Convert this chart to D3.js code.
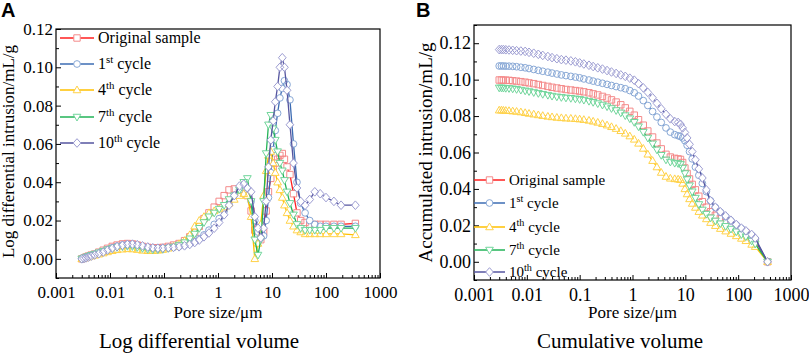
<!DOCTYPE html>
<html>
<head>
<meta charset="utf-8">
<script src="https://cdn.jsdelivr.net/npm/d3@7"></script>
<style>
  body { margin: 0; background: #fff; }
  svg text { font-family: "Liberation Serif", "Times New Roman", serif; fill: #000; }
</style>
</head>
<body>
<div id="chart"></div>
<script>

// ------------------- //
// DATA
// ------------------- //

// legend labels (number + superscript)
var legendMain = ["Original sample", "1", "4", "7", "10"]
var legendSup  = ["", "st", "th", "th", "th"]

// panel A: log differential intrusion (mL/g) vs pore size (um)
var sizeA = [0.0030,0.0033,0.0036,0.0040,0.0045,0.0052,0.0062,0.0075,0.009,0.011,
  0.0135,0.017,0.021,0.026,0.032,0.040,0.050,0.062,0.077,0.095,
  0.12,0.15,0.19,0.24,0.30,0.37,0.45,0.55,0.68,0.85,
  1.05,1.3,1.6,2.0,2.5,3.0,3.5,4.1,4.8,5.5,
  6.2,7.0,7.8,8.6,9.5,10.5,11.5,12.7,14,15.5,
  17,19,21.5,25,29,34,41,50,62,78,
  100,140,190,350]

var diffOriginal = [0.000,0.0005,0.001,0.0015,0.002,0.0025,0.0035,0.0045,0.0055,0.0065,
  0.0072,0.0078,0.008,0.0078,0.0072,0.0065,0.006,0.0058,0.0058,0.006,
  0.0065,0.0072,0.008,0.0095,0.0115,0.014,0.017,0.021,0.024,0.027,
  0.030,0.033,0.036,0.0365,0.035,0.034,0.033,0.025,0.015,0.012,
  0.010,0.014,0.025,0.035,0.042,0.047,0.050,0.052,0.054,0.055,
  0.052,0.048,0.044,0.034,0.024,0.020,0.019,0.018,0.018,0.018,
  0.018,0.018,0.018,0.0185]

var diffCycle1 = [0,0.0003,0.0008,0.0012,0.0018,0.0024,0.003,0.0038,0.0048,0.0058,
  0.0066,0.0072,0.0075,0.0074,0.007,0.0064,0.0058,0.0055,0.0054,0.0055,
  0.0058,0.006,0.0065,0.0072,0.008,0.009,0.0105,0.0125,0.015,0.018,
  0.021,0.025,0.029,0.033,0.036,0.037,0.036,0.030,0.020,0.014,
  0.011,0.012,0.020,0.032,0.045,0.057,0.067,0.076,0.084,0.089,
  0.093,0.091,0.083,0.060,0.040,0.029,0.024,0.020,0.018,0.017,
  0.017,0.017,0.017,0.017]

var diffCycle4 = [0,0.0003,0.0006,0.001,0.0014,0.0018,0.0024,0.003,0.0036,0.0042,
  0.0047,0.005,0.0052,0.0051,0.0048,0.0044,0.0042,0.0042,0.0044,0.0048,
  0.0055,0.0065,0.0078,0.0095,0.0125,0.017,0.020,0.022,0.024,0.025,
  0.026,0.027,0.029,0.031,0.033,0.034,0.033,0.022,0.000,0.008,
  0.018,0.033,0.046,0.054,0.056,0.050,0.045,0.040,0.036,0.032,
  0.028,0.024,0.020,0.017,0.015,0.014,0.013,0.013,0.013,0.013,
  0.013,0.013,0.013,0.0125]

var diffCycle7 = [0,0.0004,0.0009,0.0014,0.0019,0.0025,0.0032,0.004,0.0048,0.0055,
  0.006,0.0064,0.0066,0.0065,0.006,0.0055,0.005,0.0048,0.0048,0.005,
  0.0055,0.0062,0.0072,0.0085,0.0105,0.013,0.016,0.019,0.022,0.024,
  0.026,0.028,0.031,0.033,0.036,0.040,0.042,0.030,0.010,0.002,
  0.010,0.030,0.055,0.070,0.075,0.068,0.062,0.056,0.050,0.046,
  0.041,0.035,0.029,0.023,0.018,0.016,0.015,0.015,0.015,0.015,
  0.016,0.016,0.016,0.016]

var diffCycle10 = [0,0.0002,0.0005,0.0009,0.0014,0.002,0.0027,0.0035,0.0045,0.0055,
  0.0064,0.0071,0.0076,0.0077,0.0074,0.0068,0.0062,0.0058,0.0056,0.0056,
  0.0058,0.006,0.0063,0.0068,0.0075,0.0085,0.0098,0.0115,0.0135,0.016,
  0.019,0.023,0.028,0.033,0.038,0.039,0.037,0.035,0.022,0.016,
  0.011,0.016,0.030,0.048,0.062,0.072,0.082,0.090,0.100,0.105,
  0.100,0.088,0.070,0.050,0.037,0.030,0.028,0.031,0.035,0.034,
  0.032,0.030,0.028,0.028]

// panel B: cumulative intrusion (mL/g) vs pore size (um)
var sizeB = [0.0030,0.0033,0.0036,0.0040,0.0046,0.0054,0.0064,0.0077,0.0093,0.011,
  0.0135,0.0165,0.020,0.025,0.030,0.037,0.045,0.055,0.068,0.083,
  0.10,0.12,0.15,0.18,0.22,0.27,0.33,0.40,0.49,0.60,
  0.73,0.89,1.08,1.3,1.6,1.95,2.4,2.9,3.5,4.3,
  5.2,6.3,7.3,8.1,8.9,9.8,10.8,12,13.5,15.5,
  18,21,25,30,37,46,58,73,92,115,
  140,180,210,360]

var cumOriginal = [0.0998,0.0998,0.0997,0.0997,0.0996,0.0994,0.0992,0.0989,0.0986,0.0982,
  0.0978,0.0973,0.0968,0.0963,0.0958,0.0954,0.0950,0.0946,0.0943,0.0940,
  0.0937,0.0933,0.0928,0.0922,0.0916,0.0908,0.0899,0.0889,0.0877,0.0862,
  0.0845,0.0826,0.0805,0.0780,0.0750,0.0718,0.0685,0.0652,0.0620,0.0590,
  0.0575,0.0568,0.0565,0.0562,0.0545,0.0515,0.0485,0.0455,0.0425,0.0395,
  0.0360,0.0330,0.0300,0.0275,0.0255,0.0238,0.0222,0.0205,0.0188,0.0172,
  0.0160,0.0135,0.0115,0]

var cumCycle1 = [0.1075,0.1075,0.1075,0.1074,0.1074,0.1073,0.1071,0.1068,0.1065,0.1061,
  0.1056,0.1051,0.1046,0.1041,0.1036,0.1031,0.1026,0.1022,0.1018,0.1014,
  0.1010,0.1004,0.0998,0.0992,0.0986,0.0980,0.0974,0.0968,0.0962,0.0956,
  0.0950,0.0940,0.0928,0.0910,0.0885,0.0858,0.0825,0.0795,0.0765,0.0735,
  0.0712,0.0698,0.0692,0.0688,0.0680,0.0665,0.0640,0.0605,0.0565,0.0520,
  0.0475,0.0430,0.0385,0.0335,0.0298,0.0272,0.0248,0.0225,0.0202,0.0182,
  0.0165,0.0145,0.0122,0]

var cumCycle4 = [0.0832,0.0832,0.0831,0.0830,0.0829,0.0827,0.0825,0.0822,0.0818,0.0814,
  0.0810,0.0806,0.0802,0.0798,0.0795,0.0792,0.0790,0.0788,0.0787,0.0785,
  0.0783,0.0780,0.0776,0.0771,0.0765,0.0758,0.0750,0.0741,0.0731,0.0719,
  0.0705,0.0690,0.0672,0.0650,0.0622,0.0590,0.0555,0.0520,0.0490,0.0468,
  0.0458,0.0455,0.0453,0.0450,0.0430,0.0400,0.0372,0.0345,0.0320,0.0298,
  0.0275,0.0255,0.0235,0.0215,0.0198,0.0182,0.0168,0.0155,0.0142,0.0128,
  0.0115,0.0095,0.0083,0]

var cumCycle7 = [0.0955,0.0955,0.0954,0.0953,0.0952,0.0950,0.0947,0.0943,0.0939,0.0935,
  0.0930,0.0925,0.0920,0.0915,0.0910,0.0906,0.0903,0.0900,0.0898,0.0895,
  0.0892,0.0888,0.0882,0.0876,0.0869,0.0861,0.0852,0.0842,0.0831,0.0818,
  0.0803,0.0786,0.0766,0.0742,0.0712,0.0680,0.0648,0.0615,0.0585,0.0560,
  0.0548,0.0542,0.0540,0.0535,0.0515,0.0485,0.0452,0.0418,0.0385,0.0350,
  0.0315,0.0285,0.0262,0.0242,0.0225,0.0210,0.0195,0.0180,0.0165,0.0150,
  0.0138,0.0115,0.0098,0]

var cumCycle10 = [0.1165,0.1165,0.1165,0.1164,0.1163,0.1161,0.1159,0.1157,0.1155,0.1150,
  0.1145,0.1139,0.1133,0.1127,0.1121,0.1115,0.1110,0.1107,0.1103,0.1098,
  0.1092,0.1086,0.1079,0.1072,0.1065,0.1058,0.1050,0.1042,0.1034,0.1026,
  0.1018,0.1008,0.0997,0.0978,0.0955,0.0930,0.0900,0.0870,0.0840,0.0810,
  0.0785,0.0770,0.0765,0.0755,0.0735,0.0710,0.0680,0.0645,0.0605,0.0560,
  0.0510,0.0460,0.0395,0.0335,0.0300,0.0275,0.0252,0.0228,0.0205,0.0185,
  0.0170,0.0150,0.0130,0]

var xTickLabels = ["0.001", "0.01", "0.1", "1", "10", "100", "1000"]

// ------------------- //
// STYLE
// ------------------- //

var serif = "'Liberation Serif', 'Times New Roman', serif"
var lineColors   = ["#ff1f1f", "#3d6cb3", "#ffc000", "#22b357", "#55559f"]
var markerColors = ["#f48a8a", "#88a8d6", "#ffd24a", "#72d69c", "#9d9dd2"]

// custom marker shapes (hollow, like the origin plot)
function shapePath(k, s) {
  var p = d3.path()
  if (k == 0) { p.rect(-s, -s, 2*s, 2*s) }
  else if (k == 1) { p.arc(0, 0, s*1.05, 0, 2*Math.PI) }
  else if (k == 2) { p.moveTo(0, -s*1.25); p.lineTo(s*1.2, s*0.85); p.lineTo(-s*1.2, s*0.85); p.closePath() }
  else if (k == 3) { p.moveTo(0, s*1.25); p.lineTo(s*1.2, -s*0.85); p.lineTo(-s*1.2, -s*0.85); p.closePath() }
  else { p.moveTo(0, -s*1.35); p.lineTo(s*1.2, 0); p.lineTo(0, s*1.35); p.lineTo(-s*1.2, 0); p.closePath() }
  return p.toString()
}

var W = 809, H = 358

var svg = d3.select("#chart")
  .append("svg")
    .attr("width", W)
    .attr("height", H)
    .attr("font-family", serif)

// ------------------- //
// PANEL FUNCTION
// ------------------- //

function drawPanel(cfg) {
  var g = svg.append("g")

  var x = d3.scaleLog().domain([0.001, 1000]).range([cfg.left, cfg.right])
  var y = d3.scaleLinear().domain(cfg.yDomain).range([cfg.bottom, cfg.top])

  // minor ticks
  var minorX = []
  for (var e = -3; e < 3; e++) {
    for (var m = 2; m <= 9; m++) minorX.push(m * Math.pow(10, e))
  }
  g.append("g")
    .attr("transform", "translate(0," + cfg.bottom + ")")
    .call(d3.axisBottom(x).tickValues(minorX).tickSize(-3).tickFormat(""))
    .call(function(a){ a.select(".domain").remove() })

  g.append("g")
    .attr("transform", "translate(0," + cfg.bottom + ")")
    .call(d3.axisBottom(x).tickValues(xTickLabels.map(Number)).tickSize(-5).tickPadding(8)
      .tickFormat(function(d, i){ return xTickLabels[i] }))
    .call(function(a){ a.select(".domain").remove() })
    .attr("font-family", serif)
    .attr("font-size", cfg.tickFont)

  g.append("g")
    .attr("transform", "translate(" + cfg.left + ",0)")
    .call(d3.axisLeft(y).tickValues(cfg.yMinor).tickSize(-3).tickFormat(""))
    .call(function(a){ a.select(".domain").remove() })

  g.append("g")
    .attr("transform", "translate(" + cfg.left + ",0)")
    .call(d3.axisLeft(y).tickValues(cfg.yTicks).tickSize(-5).tickPadding(3).tickFormat(d3.format(".2f")))
    .call(function(a){ a.select(".domain").remove() })
    .attr("font-family", serif)
    .attr("font-size", cfg.tickFont)

  g.selectAll(".tick line").attr("stroke", "#000").attr("stroke-width", 1)

  // frame
  g.append("rect")
    .attr("x", cfg.left)
    .attr("y", cfg.top)
    .attr("width", cfg.right - cfg.left)
    .attr("height", cfg.bottom - cfg.top)
    .attr("fill", "none")
    .attr("stroke", "#000")
    .attr("stroke-width", 1.2)

  // lines + markers (line hidden inside each marker, outlines on top)
  var line = d3.line()
    .x(function(d){ return x(d[0]) })
    .y(function(d){ return y(d[1]) })

  cfg.series.forEach(function(vals, k) {
    var pts = cfg.sizes.map(function(s, i){ return [s, vals[i]] })
    g.append("path")
      .datum(pts)
      .attr("d", line)
      .attr("fill", "none")
      .attr("stroke", lineColors[k])
      .attr("stroke-width", 1.3)
    g.selectAll(".fill" + k)
      .data(pts)
      .enter()
      .append("path")
        .attr("class", "fill" + k)
        .attr("d", shapePath(k, 2.8))
        .attr("transform", function(d){ return "translate(" + x(d[0]) + "," + y(d[1]) + ")" })
        .attr("fill", "#fff")
    g.selectAll(".mk" + k)
      .data(pts)
      .enter()
      .append("path")
        .attr("class", "mk" + k)
        .attr("d", shapePath(k, 3.2))
        .attr("transform", function(d){ return "translate(" + x(d[0]) + "," + y(d[1]) + ")" })
        .attr("fill", "none")
        .attr("stroke", markerColors[k])
        .attr("stroke-width", 1)
  })

  // legend
  legendMain.forEach(function(lbl, k) {
    var ly = cfg.legY[k]
    g.append("line")
      .attr("x1", cfg.legX0).attr("x2", cfg.legX1)
      .attr("y1", ly).attr("y2", ly)
      .attr("stroke", lineColors[k])
      .attr("stroke-width", 1.5)
    g.append("path")
      .attr("d", shapePath(k, 3.2))
      .attr("transform", "translate(" + ((cfg.legX0 + cfg.legX1) / 2) + "," + ly + ")")
      .attr("fill", "#fff")
      .attr("stroke", markerColors[k])
    var t = g.append("text")
      .attr("x", cfg.legX1 + 4)
      .attr("y", ly + cfg.legFont * 0.33)
      .style("font-size", cfg.legFont + "px")
    t.append("tspan").text(lbl)
    if (legendSup[k] != "") {
      t.append("tspan").attr("dy", -6).style("font-size", (cfg.legFont * 0.68) + "px").text(legendSup[k])
      t.append("tspan").attr("dy", 6).text(" cycle")
    }
  })

  // axis titles
  g.append("text")
    .attr("transform", "translate(" + cfg.yLabelX + "," + ((cfg.top + cfg.bottom) / 2 + cfg.yLabelShift) + ") rotate(-90)")
    .attr("text-anchor", "middle")
    .style("font-size", cfg.yLabelFont + "px")
    .text(cfg.yLabel)

  g.append("text")
    .attr("x", (cfg.left + cfg.right) / 2)
    .attr("y", 318)
    .attr("text-anchor", "middle")
    .style("font-size", "17px")
    .text("Pore size/\u03bcm")

  g.append("text")
    .attr("x", cfg.captionX)
    .attr("y", 348)
    .attr("text-anchor", "middle")
    .style("font-size", "21px")
    .text(cfg.caption)

  g.append("text")
    .attr("x", cfg.letterX)
    .attr("y", 17)
    .style("font-family", "'Liberation Sans', Arial, sans-serif")
    .style("font-weight", "bold")
    .style("font-size", "20px")
    .text(cfg.letter)
}

// ------------------- //
// DRAW BOTH PANELS
// ------------------- //

drawPanel({
  left: 56, right: 380, top: 29, bottom: 278,
  yDomain: [-0.01, 0.12],
  yTicks: [0, 0.02, 0.04, 0.06, 0.08, 0.10, 0.12],
  yMinor: [-0.01, 0.01, 0.03, 0.05, 0.07, 0.09, 0.11],
  sizes: sizeA,
  series: [diffOriginal, diffCycle1, diffCycle4, diffCycle7, diffCycle10],
  tickFont: 17,
  legX0: 60, legX1: 94, legY: [38, 64, 90, 117, 143], legFont: 16,
  yLabel: "Log differential intrusion/mL/g", yLabelX: 14, yLabelShift: -2, yLabelFont: 17,
  caption: "Log differential volume", captionX: 199,
  letter: "A", letterX: 1
})

drawPanel({
  left: 474, right: 791, top: 25, bottom: 280,
  yDomain: [-0.01, 0.13],
  yTicks: [0, 0.02, 0.04, 0.06, 0.08, 0.10, 0.12],
  yMinor: [-0.01, 0.01, 0.03, 0.05, 0.07, 0.09, 0.11, 0.13],
  sizes: sizeB,
  series: [cumOriginal, cumCycle1, cumCycle4, cumCycle7, cumCycle10],
  tickFont: 18,
  legX0: 474, legX1: 505, legY: [180, 203, 227, 250, 272], legFont: 15,
  yLabel: "Accumulated intrusion/mL/g", yLabelX: 432, yLabelShift: 0, yLabelFont: 19,
  caption: "Cumulative volume", captionX: 620,
  letter: "B", letterX: 416
})

</script>
</body>
</html>
